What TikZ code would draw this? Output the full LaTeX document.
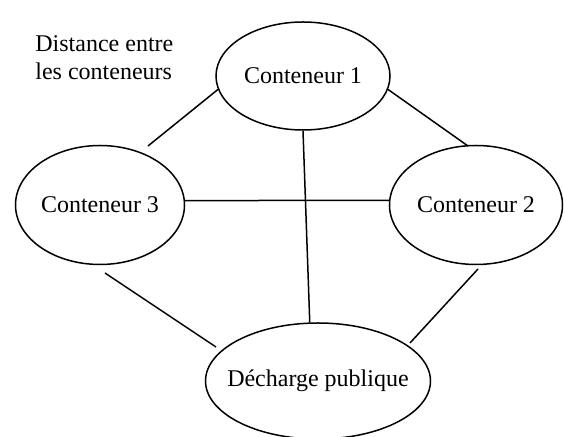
\documentclass[tikz,border=0pt]{standalone}
\usepackage{fontspec}
\setmainfont{Liberation Serif}
\usetikzlibrary{shapes.geometric}
\begin{document}
\begin{tikzpicture}[x=0.5pt,y=-0.5pt,
  site/.style={ellipse,draw,line width=0.75pt,inner sep=0pt,font=\fontsize{12}{14}\selectfont},
  link/.style={line width=0.75pt},
  note/.style={font=\fontsize{12}{14}\selectfont,align=left,inner sep=0pt}]
  \useasboundingbox (0,0) rectangle (564,437);
  \clip (0,0) rectangle (564,437);

  % containers and the public dump (labels in zero-width boxes so the
  % ellipse size is set only by the minimum dimensions)
  \node[site,minimum width=87pt,minimum height=54pt]   (c1) at (303,76)  {\makebox[0pt]{Conteneur 1}};
  \node[site,minimum width=84.5pt,minimum height=59.5pt] (c3) at (100,205) {\makebox[0pt]{Conteneur 3}};
  \node[site,minimum width=86.5pt,minimum height=59.5pt] (c2) at (476,205) {\makebox[0pt]{Conteneur 2}};
  \node[site,minimum width=112.5pt,minimum height=58pt] (d)  at (318,381) {\makebox[0pt]{Décharge publique}};

  % caption
  \node[note,anchor=west] (cap) at (35,58) {Distance entre\\les conteneurs};

  % free ends of the links
  \coordinate (e13) at (148,146);
  \coordinate (e12) at (468,146);
  \coordinate (e3a) at (105,273);
  \coordinate (e3b) at (216,347);
  \coordinate (e2a) at (478,269);
  \coordinate (e2b) at (410,343);

  % distances
  \draw[link] (c1.189) -- (e13);
  \draw[link] (c1.351) -- (e12);
  \draw[link] (c1.south) -- (d.98);
  \draw[link] (c3.3) -- (c2.177);
  \draw[link] (e3a) -- (e3b);
  \draw[link] (e2a) -- (e2b);
\end{tikzpicture}
\end{document}
